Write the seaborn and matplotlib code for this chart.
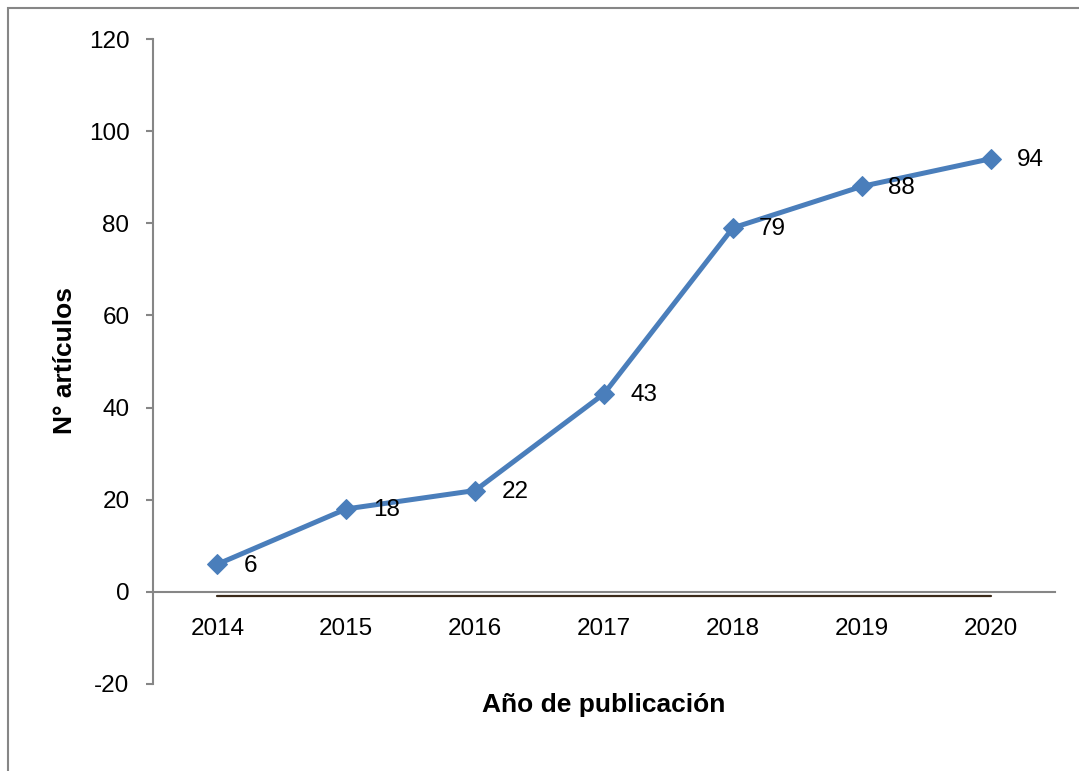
import matplotlib
matplotlib.use("Agg")
import matplotlib.pyplot as plt
from matplotlib.patches import Rectangle
import seaborn as sns
import pandas as pd

# Articles published per year
years = [2014, 2015, 2016, 2017, 2018, 2019, 2020]
articles = [6, 18, 22, 43, 79, 88, 94]
# Flat reference series drawn just under the zero line
baseline = [-0.9, -0.9, -0.9, -0.9, -0.9, -0.9, -0.9]
y_ticks = [-20, 0, 20, 40, 60, 80, 100, 120]

sns.set_theme(style="white")
plt.rcParams["font.family"] = ["Liberation Sans", "DejaVu Sans"]
plt.rcParams["axes.unicode_minus"] = False
plt.rcParams["text.color"] = "black"

fig = plt.figure(figsize=(10.79, 7.71), dpi=100)
ax = fig.add_axes([153 / 1079, 87 / 771, 902 / 1079, 645 / 771])

df = pd.DataFrame({"year": years, "articles": articles, "base": baseline})

sns.lineplot(data=df, x="year", y="base", ax=ax, color="#3b2a1a",
             linewidth=1.6, legend=False)
sns.lineplot(data=df, x="year", y="articles", ax=ax, color="#4a7ebb",
             linewidth=3.6, marker="D", markersize=10.5,
             markeredgecolor="#4a7ebb", legend=False)

for x, v in zip(years, articles):
    ax.annotate(str(v), (x, v), xytext=(19, -1), textcoords="offset points",
                ha="left", va="center", fontsize=17.5, color="black")

ax.set_xlim(2013.5, 2020.5)
ax.set_ylim(-20, 120)
ax.set_xticks(years)
ax.set_xticklabels([str(y) for y in years])
ax.set_yticks(y_ticks)
ax.set_xlabel("")
ax.set_ylabel("")

for side in ["top", "right"]:
    ax.spines[side].set_visible(False)
ax.spines["bottom"].set_position(("data", 0))
for side in ["left", "bottom"]:
    ax.spines[side].set_color("#868686")
    ax.spines[side].set_linewidth(1.5)

ax.tick_params(axis="y", which="both", left=True, length=5, width=1.5,
               color="#868686", pad=12, labelsize=17.5, labelcolor="black")
ax.tick_params(axis="x", which="both", bottom=False, length=0, pad=19,
               labelsize=17.5, labelcolor="black")
ax.grid(False)

fig.text(604 / 1079, 1 - 705 / 771, "Año de publicación", ha="center",
         va="center", fontsize=19, fontweight="bold", color="black")
fig.text(65 / 1079, 1 - 361 / 771, "N° artículos", ha="center", va="center",
         rotation=90, fontsize=19, fontweight="bold", color="black")

# Outer chart frame
fig.patches.append(Rectangle((8 / 1079, -0.05), 1.1, 1 - 8 / 771 + 0.05,
                             transform=fig.transFigure, fill=False,
                             edgecolor="#868686", linewidth=1.5))

fig.savefig("out.png", dpi=100)
